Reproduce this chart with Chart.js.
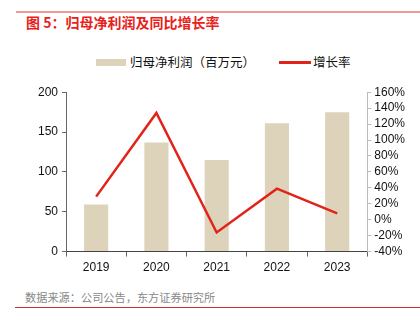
<html>
  <head>
   <title>归母净利润及同比增长率</title>
   <script src="https://cdn.jsdelivr.net/npm/chart.js@4.4.0/dist/chart.umd.min.js"></script>
   <style>
    body{
      margin:0;
      width:420px;
      height:325px;
      background:#fff;
      position:relative;
      overflow:hidden;
      font-family:"Noto Sans CJK SC","Liberation Sans",sans-serif;
    }
    #topline{position:absolute;left:16px;right:0;top:11px;height:2px;background:#f09a9a;}
    #title{position:absolute;left:26px;top:12px;font-size:14px;font-weight:bold;color:#e8211a;}
    #legend{position:absolute;top:53px;left:0;width:420px;height:18px;font-size:12.5px;color:#111;}
    .sw{position:absolute;}
    .lt{position:absolute;top:0;line-height:18px;}
    #wrap{position:absolute;left:0;top:81px;width:420px;height:198px;}
    #source{position:absolute;left:25px;top:289px;font-size:11.2px;color:#888;}
    #botline{position:absolute;left:15px;right:0;top:307px;height:1px;background:#c9302c;}
   </style>
  </head>

  <body>
    <div id="topline"></div>
    <div id="title">图 5：归母净利润及同比增长率</div>

    <!--legend-->
    <div id="legend">
      <div class="sw" style="left:96px;top:6px;width:30px;height:7px;background:#ddd3bb;"></div>
      <div class="lt" style="left:130px;">归母净利润（百万元）</div>
      <div class="sw" style="left:279px;top:8px;width:32px;height:3px;background:#e2231a;"></div>
      <div class="lt" style="left:313px;">增长率</div>
    </div>

    <div id="wrap"><canvas id="combo"></canvas></div>

    <div id="source">数据来源：公司公告，东方证券研究所</div>
    <div id="botline"></div>
  </body>

  <script>
    var years = ['2019', '2020', '2021', '2022', '2023'];
    var profit = [59, 137, 115, 161, 175];
    var growth = [29, 134, -16, 39, 8];
    var leftTicks = [0, 50, 100, 150, 200];
    var rightTicks = [-40, -20, 0, 20, 40, 60, 80, 100, 120, 140, 160];

    var tickFont = {family: "'Liberation Sans', Arial, sans-serif", size: 12};

    new Chart(document.getElementById('combo'), {
      data: {
        labels: years,
        datasets: [
          {
            type: 'line',
            label: '增长率',
            data: growth,
            yAxisID: 'y1',
            borderColor: '#e2231a',
            borderWidth: 2.5,
            pointRadius: 0,
            tension: 0,
            order: 0
          },
          {
            type: 'bar',
            label: '归母净利润（百万元）',
            data: profit,
            yAxisID: 'y',
            backgroundColor: '#ddd3bb',
            barPercentage: 0.4,
            categoryPercentage: 1,
            order: 1
          }
        ]
      },
      options: {
        responsive: true,
        maintainAspectRatio: false,
        animation: false,
        layout: {padding: {left: 34, right: 12, top: 0, bottom: 0}},
        plugins: {legend: {display: false}, tooltip: {enabled: false}},
        scales: {
          x: {
            offset: true,
            grid: {offset: true, drawOnChartArea: false, drawTicks: true, tickLength: 5, color: '#666'},
            border: {color: '#444'},
            ticks: {color: '#111', font: tickFont, padding: 4}
          },
          y: {
            position: 'left',
            min: 0,
            max: 200,
            afterBuildTicks: function(axis){ axis.ticks = leftTicks.map(function(v){ return {value: v}; }); },
            grid: {drawOnChartArea: false, tickLength: 4, color: '#666'},
            border: {color: '#666'},
            ticks: {color: '#111', font: tickFont, padding: 4, autoSkip: false}
          },
          y1: {
            position: 'right',
            min: -40,
            max: 160,
            afterBuildTicks: function(axis){ axis.ticks = rightTicks.map(function(v){ return {value: v}; }); },
            grid: {drawOnChartArea: false, tickLength: 4, color: '#bbb'},
            border: {color: '#bbb'},
            ticks: {color: '#111', font: tickFont, padding: 3, autoSkip: false, callback: function(v){ return v + '%'; }}
          }
        }
      }
    });
  </script>
</html>
